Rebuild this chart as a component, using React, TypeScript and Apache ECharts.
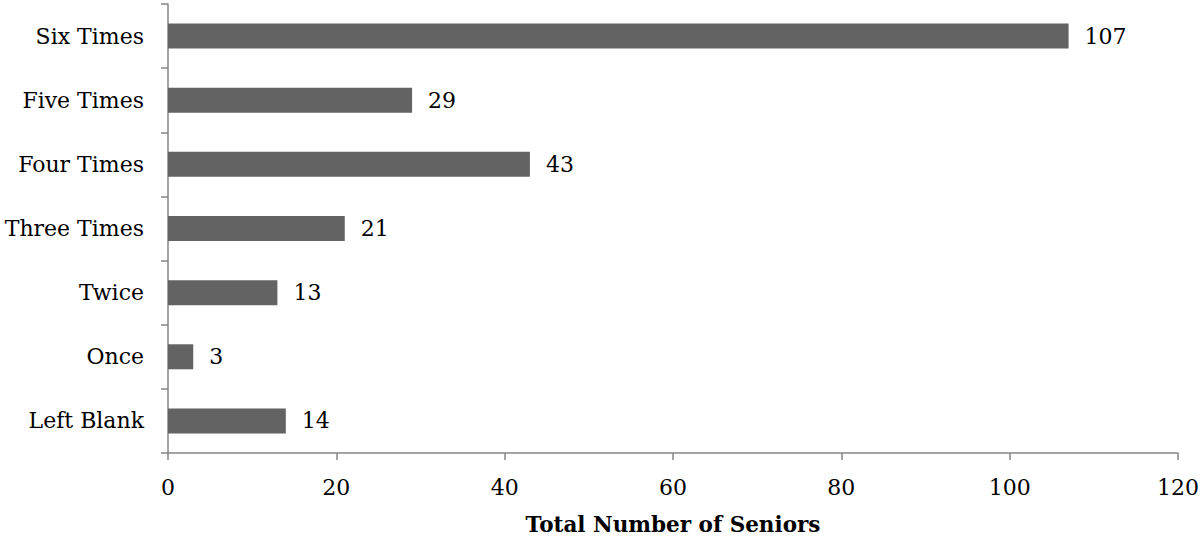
import React, { useEffect, useRef } from "react";
import * as echarts from "echarts";

const categories = ["Left Blank", "Once", "Twice", "Three Times", "Four Times", "Five Times", "Six Times"];
const seniors = [14, 3, 13, 21, 43, 29, 107];
const xTicks = { min: 0, max: 120, interval: 20 };
const axisTitle = "Total Number of Seniors";

const FONT = "DejaVu Serif";

export default function App() {
  const ref = useRef<HTMLDivElement>(null);
  useEffect(() => {
    if (!ref.current) return;
    const chart = echarts.init(ref.current, null, { renderer: "svg" });
    chart.setOption({
      animation: false,
      backgroundColor: "#ffffff",
      grid: { left: 168, right: 25, top: 4, bottom: 84, containLabel: false, outerBoundsMode: "none" },
      xAxis: {
        type: "value",
        min: xTicks.min,
        max: xTicks.max,
        interval: xTicks.interval,
        name: axisTitle,
        nameLocation: "middle",
        nameGap: 60,
        nameTextStyle: { fontFamily: FONT, fontSize: 21.5, fontWeight: "bold", color: "#000" },
        axisLine: { show: true, lineStyle: { color: "#868686", width: 1.5 } },
        axisTick: { show: true, length: 7, lineStyle: { color: "#868686", width: 1.5 } },
        axisLabel: { fontFamily: FONT, fontSize: 22, color: "#000", margin: 23 },
        splitLine: { show: false },
      },
      yAxis: {
        type: "category",
        data: categories,
        axisLine: { show: true, lineStyle: { color: "#868686", width: 1.5 } },
        axisTick: { show: true, length: 7, lineStyle: { color: "#868686", width: 1.5 } },
        axisLabel: { fontFamily: FONT, fontSize: 22, color: "#000", margin: 24 },
      },
      series: [
        {
          type: "bar",
          data: seniors,
          barWidth: "39%",
          itemStyle: { color: "#636363" },
          label: {
            show: true,
            position: "right",
            distance: 16,
            fontFamily: FONT,
            fontSize: 22,
            color: "#000",
          },
        },
      ],
    });
    return () => chart.dispose();
  }, []);
  return <div ref={ref} style={{ width: 1203, height: 537, position: "absolute", left: 0, top: 0 }} />;
}
